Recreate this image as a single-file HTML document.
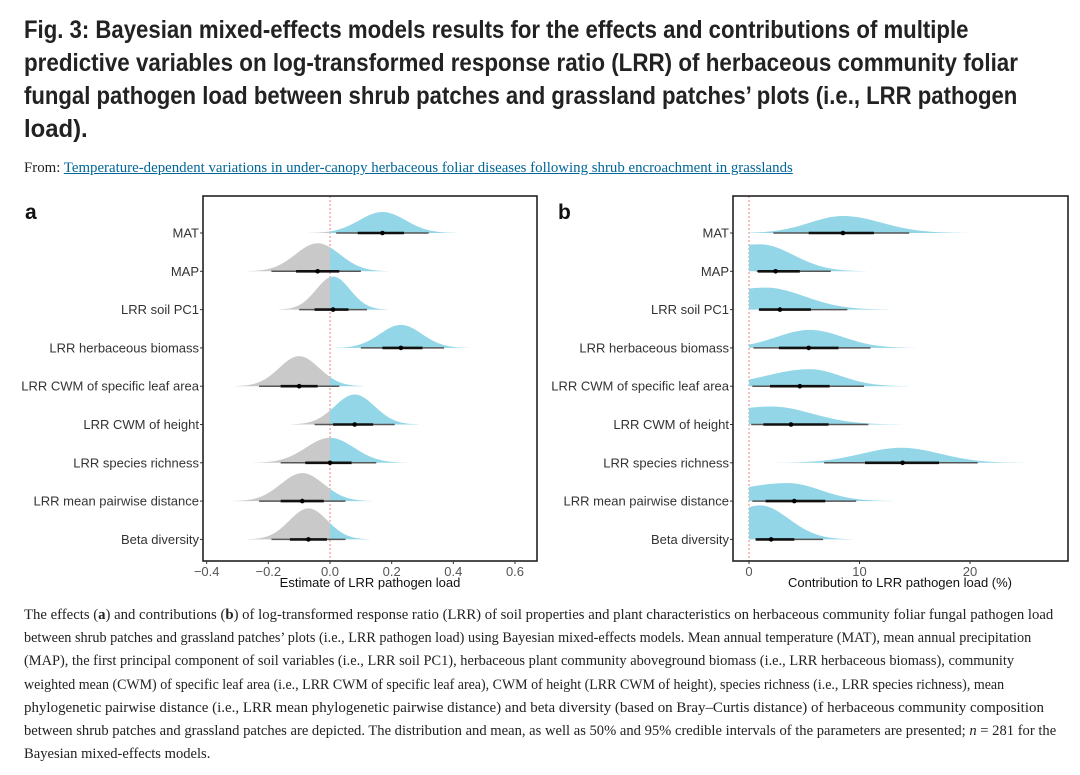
<!DOCTYPE html>
<html><head><meta charset="utf-8">
<style>
body{margin:0;width:1080px;height:775px;background:#fff;overflow:hidden;position:relative;font-family:"Liberation Sans",sans-serif;}
.t{position:absolute;left:24px;white-space:nowrap;transform-origin:0 0;}
.title{font-weight:bold;font-size:25px;color:#222;}
.cap{font-family:"Liberation Serif",serif;font-size:14.5px;color:#222;}
.from{font-family:"Liberation Serif",serif;font-size:14.5px;color:#222;}
.from a{color:#069;text-decoration:underline;}
svg{position:absolute;left:0;top:0;}
</style></head><body>
<div class="t title" style="top:16px" data-w="944">Fig. 3: Bayesian mixed-effects models results for the effects and contributions of multiple</div>
<div class="t title" style="top:49px" data-w="994">predictive variables on log-transformed response ratio (LRR) of herbaceous community foliar</div>
<div class="t title" style="top:82px" data-w="993">fungal pathogen load between shrub patches and grassland patches’ plots (i.e., LRR pathogen</div>
<div class="t title" style="top:115px" data-w="64">load).</div>
<div class="t from" style="top:160px" data-w="769">From: <a>Temperature-dependent variations in under-canopy herbaceous foliar diseases following shrub encroachment in grasslands</a></div>

<svg id="chart" width="1080" height="600"></svg>

<div class="t cap" style="top:607px" data-w="1029">The effects (<b>a</b>) and contributions (<b>b</b>) of log-transformed response ratio (LRR) of soil properties and plant characteristics on herbaceous community foliar fungal pathogen load</div>
<div class="t cap" style="top:630px" data-w="1007">between shrub patches and grassland patches’ plots (i.e., LRR pathogen load) using Bayesian mixed-effects models. Mean annual temperature (MAT), mean annual precipitation</div>
<div class="t cap" style="top:653px" data-w="990">(MAP), the first principal component of soil variables (i.e., LRR soil PC1), herbaceous plant community aboveground biomass (i.e., LRR herbaceous biomass), community</div>
<div class="t cap" style="top:677px" data-w="980">weighted mean (CWM) of specific leaf area (i.e., LRR CWM of specific leaf area), CWM of height (LRR CWM of height), species richness (i.e., LRR species richness), mean</div>
<div class="t cap" style="top:700px" data-w="1020">phylogenetic pairwise distance (i.e., LRR mean phylogenetic pairwise distance) and beta diversity (based on Bray–Curtis distance) of herbaceous community composition</div>
<div class="t cap" style="top:723px" data-w="1032">between shrub patches and grassland patches are depicted. The distribution and mean, as well as 50% and 95% credible intervals of the parameters are presented; <i>n</i> = 281 for the</div>
<div class="t cap" style="top:746px" data-w="186">Bayesian mixed-effects models.</div>

<script>
document.querySelectorAll('[data-w]').forEach(function(el){
  var w=+el.getAttribute('data-w');var s=w/el.scrollWidth;
  el.style.transform='scaleX('+s+')';
});

const categories=["MAT","MAP","LRR soil PC1","LRR herbaceous biomass","LRR CWM of specific leaf area","LRR CWM of height","LRR species richness","LRR mean pairwise distance","Beta diversity"];
// panel a: effect estimates
const aMean=[0.17,-0.04,0.01,0.23,-0.10,0.08,0.0,-0.09,-0.07];
const aL95=[0.02,-0.19,-0.10,0.10,-0.23,-0.05,-0.16,-0.23,-0.19];
const aL50=[0.09,-0.11,-0.05,0.17,-0.16,0.01,-0.08,-0.16,-0.13];
const aU50=[0.24,0.03,0.06,0.30,-0.04,0.14,0.07,-0.02,-0.01];
const aU95=[0.32,0.10,0.12,0.37,0.03,0.21,0.15,0.05,0.05];
const aMode=[0.17,-0.04,0.01,0.23,-0.10,0.08,0.0,-0.09,-0.07];
const aSd=[0.075,0.072,0.055,0.068,0.065,0.065,0.078,0.07,0.062];
const aPeak=[21,28,33,23,30,30,25,28,31];
const aTicks=[-0.4,-0.2,0.0,0.2,0.4,0.6];
// panel b: contributions (%)
const bMean=[8.5,2.4,2.8,5.4,4.6,3.8,13.9,4.1,2.0];
const bL95=[2.2,0.7,0.9,0.4,0.3,0.2,6.8,0.3,0.6];
const bL50=[5.4,0.8,0.9,2.7,1.9,1.3,10.5,1.5,0.6];
const bU50=[11.3,4.6,5.6,8.1,7.3,7.2,17.2,6.9,4.1];
const bU95=[14.5,7.4,8.9,11.0,10.4,10.8,20.7,9.7,6.7];
const bMode=[8.5,1.0,1.5,5.5,5.5,2.0,13.8,3.5,1.0];
const bSdL=[3.0,6,5,3.0,4.0,5,3.6,5,3];
const bSdR=[3.5,3.0,3.5,3.0,2.8,3.7,3.5,3.0,2.6];
const bPeak=[17,27,22,18,17,18,15,18,34];
const bTicks=[0,10,20];

const NS='http://www.w3.org/2000/svg';
const svg=document.getElementById('chart');
function mk(tag,attrs,parent){const e=document.createElementNS(NS,tag);for(const k in attrs)e.setAttribute(k,attrs[k]);(parent||svg).appendChild(e);return e;}
const rowY=i=>233+i*38.3;
const BLUE='#92d6e7',GRAY='#c9c9c9';

function panel(cfg){
  const g=mk('g',{});
  
  
  const x=cfg.x;
  const clip=mk('clipPath',{id:cfg.name+'-clip'},g);
  mk('rect',{x:cfg.L,y:cfg.T,width:cfg.R-cfg.L,height:cfg.B-cfg.T},clip);
  const inner=mk('g',{'clip-path':'url(#'+cfg.name+'-clip)'},g);
  const zl=mk('line',{x1:x(0),x2:x(0),y1:cfg.T,y2:cfg.B,stroke:'#f08080','stroke-width':1,'stroke-dasharray':'2,2'},inner);
  
  
  categories.forEach((c,i)=>{
    const y0=rowY(i);
    const mode=cfg.mode[i],sl=cfg.sdL[i],sr=cfg.sdR[i],pk=cfg.peak[i];
    const lo=Math.max(cfg.trunc,mode-3.2*sl),hi=mode+3.2*sr;
    const dens=v=>{const s=v<mode?sl:sr;return pk*Math.exp(-0.5*Math.pow((v-mode)/s,2));};
    const mkArea=(a,b,col,nm)=>{
      if(b<=a)return;
      let d='M'+x(a)+','+y0;const n=80;
      for(let k=0;k<=n;k++){const v=a+(b-a)*k/n;d+=' L'+x(v).toFixed(2)+','+(y0-dens(v)).toFixed(2);}
      d+=' L'+x(b)+','+y0+' Z';
      const p=mk('path',{d:d,fill:col},inner);
      
      
    };
    if(cfg.split){mkArea(lo,Math.min(0,hi),GRAY,'density-negative-'+i);mkArea(Math.max(0,lo),hi,BLUE,'density-positive-'+i);}
    else mkArea(lo,hi,BLUE,'density-'+i);
    const l95=mk('line',{x1:x(cfg.l95[i]),x2:x(cfg.u95[i]),y1:y0,y2:y0,stroke:'#555','stroke-width':1.5},inner);
    
    
    const l50=mk('line',{x1:x(cfg.l50[i]),x2:x(cfg.u50[i]),y1:y0,y2:y0,stroke:'#111','stroke-width':2.6},inner);
    
    
    const pt=mk('circle',{cx:x(cfg.mean[i]),cy:y0,r:2.3,fill:'#000'},inner);
    
    
    mk('line',{x1:cfg.L-3,x2:cfg.L,y1:y0,y2:y0,stroke:'#333','stroke-width':1},g);
    const lab=mk('text',{x:cfg.L-4,y:y0+4.5,'text-anchor':'end','font-size':13,fill:'#333','font-family':'Liberation Sans, sans-serif'},g);
    lab.textContent=c;
    
    
  });
  const fr=mk('rect',{x:cfg.L,y:cfg.T,width:cfg.R-cfg.L,height:cfg.B-cfg.T,fill:'none',stroke:'#222','stroke-width':1.6},g);
  
  
  cfg.ticks.forEach(t=>{
    mk('line',{x1:x(t),x2:x(t),y1:cfg.B,y2:cfg.B+3,stroke:'#333'},g);
    const tl=mk('text',{x:x(t),y:cfg.B+15,'text-anchor':'middle','font-size':13,fill:'#555','font-family':'Liberation Sans, sans-serif'},g);
    tl.textContent=cfg.fmt(t);
    
    
  });
  const at=mk('text',{x:cfg.titleX,y:cfg.B+26,'text-anchor':'middle','font-size':13,fill:'#111','font-family':'Liberation Sans, sans-serif'},g);
  at.textContent=cfg.title;
  
  
  const pl=mk('text',{x:cfg.labX,y:219,'font-size':21,'font-weight':'bold',fill:'#111','font-family':'Liberation Sans, sans-serif'},g);
  pl.textContent=cfg.letter;
  
  
}
const xa=v=>330+v*(185/0.6);
panel({name:'panel-a',x:xa,L:203,R:537,T:196,B:561,split:true,trunc:-99,
  mode:aMode,sdL:aSd,sdR:aSd,peak:aPeak,mean:aMean,l95:aL95,l50:aL50,u50:aU50,u95:aU95,
  ticks:aTicks,fmt:t=>(t<0?'\u2212':'')+Math.abs(t).toFixed(1),title:'Estimate of LRR pathogen load',titleX:370,letter:'a',labX:25});
const xb=v=>749+v*11.05;
panel({name:'panel-b',x:xb,L:733,R:1068,T:196,B:561,split:false,trunc:0,
  mode:bMode,sdL:bSdL,sdR:bSdR,peak:bPeak,mean:bMean,l95:bL95,l50:bL50,u50:bU50,u95:bU95,
  ticks:bTicks,fmt:t=>String(t),title:'Contribution to LRR pathogen load (%)',titleX:900,letter:'b',labX:558});
</script>
</body></html>
